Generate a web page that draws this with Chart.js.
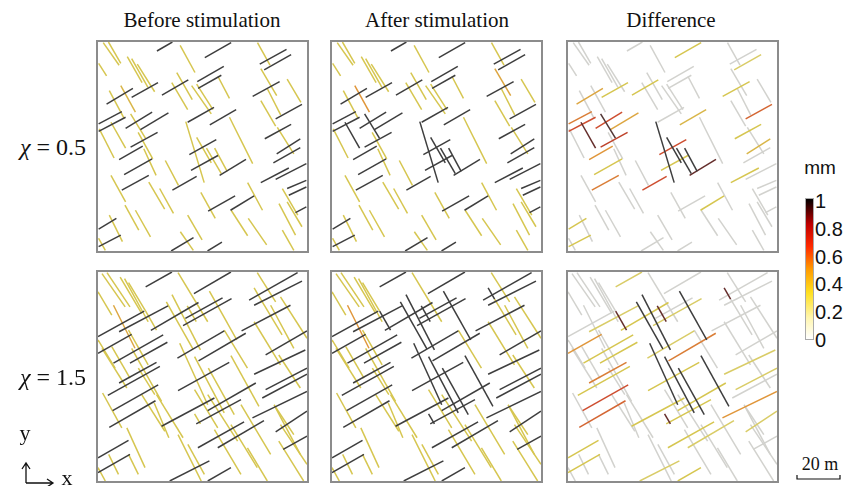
<!DOCTYPE html>
<html>
<head>
<meta charset="utf-8">
<script src="https://cdn.jsdelivr.net/npm/chart.js@4.4.1/dist/chart.umd.min.js"></script>
<style>
html,body{margin:0;padding:0;background:#fff;}
body{width:844px;height:486px;position:relative;overflow:hidden;font-family:"Liberation Serif","Times New Roman",serif;color:#111;}
.panel{position:absolute;box-sizing:border-box;width:213px;height:213px;border:2px solid #8c8c8c;background:#fff;}
.t{position:absolute;white-space:nowrap;transform:translate(-50%,-50%);}
.title{font-size:21px;top:20px;}
.chi{font-size:24px;left:53px;}
.cb{position:absolute;left:805px;top:198px;width:7px;height:140px;border:1px solid #aaa;
  background:linear-gradient(to top,#ffffff 0%,#fff6b0 15%,#ffe020 33%,#ff9a00 50%,#ff2a00 66%,#c00000 82%,#400000 94%,#000 100%);}
.cbl{position:absolute;left:815px;font-family:"Liberation Sans",Arial,sans-serif;font-size:20px;transform:translateY(-50%);}
</style>
</head>
<body>

<div class="panel" style="left:96px;top:40px"><canvas id="p0"></canvas></div>
<div class="panel" style="left:330px;top:40px"><canvas id="p1"></canvas></div>
<div class="panel" style="left:566px;top:40px"><canvas id="p2"></canvas></div>
<div class="panel" style="left:96px;top:270px"><canvas id="p3"></canvas></div>
<div class="panel" style="left:330px;top:270px"><canvas id="p4"></canvas></div>
<div class="panel" style="left:566px;top:270px"><canvas id="p5"></canvas></div>

<div class="t" style="left:820px;top:168px;font-family:'Liberation Sans',Arial,sans-serif;font-size:19px">mm</div>
<div class="cb"></div>

<svg style="position:absolute;left:0;top:400px" width="100" height="86">
  <g stroke="#111" stroke-width="1.3" fill="none">
    <path d="M26 83 L26 64 M22 69 L26 63 L30 69"/>
    <path d="M26 83 L52 83 M47 79 L53 83 L47 87"/>
  </g>
</svg>
<div class="t" style="left:25px;top:433px;font-size:22px">y</div>
<div class="t" style="left:67px;top:478px;font-size:22px">x</div>

<div class="t" style="left:820px;top:464px;font-size:18px">20 m</div>
<svg style="position:absolute;left:795px;top:472px" width="49" height="10">
  <path d="M2 3 L2 7 L45 7 L45 3" stroke="#111" stroke-width="1.2" fill="none"/>
</svg>

<script>
// panel titles, row labels and colour bar ticks
const panelTitles = ['Before stimulation', 'After stimulation', 'Difference'];
const chiValues = ['0.5', '1.5'];
const cbTicks = [0, 0.2, 0.4, 0.6, 0.8, 1];

// fractures of the chi = 0.5 network, [x1, y1, x2, y2] in m
// first the shallow set, then the steep set
const row1Segs = [
  [28.2,95.7,35.6,100],[51.1,92.5,63.7,99.7],[77.4,89.4,90.2,96.5],[79.5,86.7,92.4,94],
  [47.5,81,60.2,88.3],[47.9,77.8,59,84.1],[30.6,74.6,43.2,81.9],[16.1,73.5,28.7,80.6],
  [4.1,70.3,16.7,77.8],[74,74,86.9,81],[0.3,60.8,11.4,66.7],[0.3,57.2,13.2,64],
  [13.2,58.7,25.9,66.4],[20.3,58.1,33.7,66.1],[42.9,61.6,55.5,68.7],[53.5,60.3,66.1,67.6],
  [85,63.2,97.6,70.2],[79.8,53.7,92.4,60.6],[15.6,49.7,28.5,56.8],[43.7,46.1,56.6,53.3],
  [10.1,43.7,21.4,50.2],[85.5,46.5,96.8,53.7],[83.9,42.2,96.8,49.5],[44.5,38.6,57.4,45.7],
  [12.5,36.5,25.9,44.1],[58.2,36.2,70.8,43.8],[77.9,32.7,91.3,39.7],[85,34.3,99.7,41.8],
  [35.6,29.1,47.2,35.7],[11.4,29.1,24.3,36.2],[90.5,29.9,99.7,33.8],[91.3,26.7,99.7,30.6],
  [52.7,19.1,65.6,26.4],[63.4,19.5,74.7,26.4],[94.5,18.4,99.7,21.1],[0.3,10.5,8.8,15.6],
  [0.3,2.1,10.9,7.6],[35,0,45.7,6.4],[52.4,0,59.3,4.2],
  [2.5,99.7,10.1,88.9],[5,100,10.9,89.8],[0.3,89.8,4.1,83.8],[14,93,21.1,80.6],
  [16.1,92.1,23.9,78.3],[18.8,89.4,27.1,76.2],[39.3,98.4,46.4,85.4],[37.7,85.4,45.1,72.4],
  [35.3,80.6,42.9,67.6],[44.8,79.1,54.2,65.6],[47.2,79.8,55,67.6],[57.4,83.5,62.9,73],
  [76.3,99.7,82.3,88.9],[77.9,87.3,85.5,74.3],[77.9,71.9,85,59.7],[81.1,77.5,87.4,65.1],
  [90.5,82.2,97.1,71.1],[5.4,76.7,12.5,63.5],[10.9,79.1,17.9,66.4],[15.6,65.6,22.7,54],
  [6.2,61.6,13.2,49.2],[0.6,58.4,7.7,44.5],[19.2,56.8,26.2,44.1],[21.9,48.9,27.8,36.2],
  [42,61.9,50.8,32.7],[47.2,54.4,54.2,42.2],[51.9,49.2,59,37],[55.8,49.2,61.8,38.1],
  [62.9,64,74,41.8],[32.2,43.3,38.5,31.4],[24.3,33,31.9,20],[29.5,29.9,36.1,18],
  [6.2,36.2,13.2,23.5],[12.9,21.9,19.5,10],[17.9,19.5,25.1,6.8],[5.4,17.2,11.7,4.5],
  [42.9,17.2,49.8,5.3],[49.2,28,56.1,15.6],[63.7,19.5,71.6,7.3],[71.9,15.6,80.7,2.9],
  [71.6,32.7,78.7,19.5],[86.6,22.7,94.5,7.6],[88.2,29.9,95.6,17.2],[90.5,23.5,97.6,11.6],
  [88.2,10,93.7,0.3],[85.8,59.2,93.7,46.5],[39.4,9.2,45.6,0.3],[0.3,6.1,3.5,0.3]
];
// aperture (mm), one value per fracture
const row1Before = [
  1,1,1,1,1,1,1,1,1,1, 1,1,1,1,1,1,1,1,1,1, 1,1,1,1,1,1,1,1,1,1, 1,1,1,1,1,1,1,1,1,
  .3,.3,.3,.3,.3,.3,.3,.3,.3,.3, .3,.3,.3,.3,.3,.3,.3,.3,.35,.3, .3,.3,.3,.3,.3,.3,.3,.3,.3,.3,
  .3,.3,.3,.3,.3,.3,.3,.3,.3,.3, .3,.3,.3,.3,.3,.3,.3,.3
];
const row1After = [
  1,1,1,1,1,1,1,1,1,1, 1,1,1,1,1,1,1,1,1,1, 1,1,1,1,1,1,1,1,1,1, 1,1,1,1,1,1,1,1,1,
  .3,.3,.3,.3,.3,.3,.3,.3,.3,.3, .3,.3,.3,.4,.3,.3,.3,.3,.45,1, 1,.3,.3,.3,1,1,1,1,.3,.3,
  .3,.3,.3,.3,.3,.3,.3,.3,.3,.3, .3,.3,.3,.3,.3,.3,.3,.3
];
const row1Diff = [
  0,.3,0,.25,0,0,.3,.3,.4,.3, .5,.6,.6,.4,0,.35,.55,.3,.65,.6, .45,.35,0,.3,.3,.9,.3,0,.6,.5, 0,0,0,.3,0,.3,.3,0,0,
  0,0,0,0,0,0,0,0,0,0, 0,0,0,0,0,0,0,0,0,.95, .9,0,0,0,1,1,1,1,0,0,
  0,0,0,0,0,0,0,0,0,0, 0,0,0,0,0,0,0,0
];

// fractures of the chi = 1.5 network
const row2Segs = [
  [22.8,92.9,35.4,100],[45.9,89.7,63.6,100],[72.3,86.5,95.5,99.7],[74.7,84.1,97.6,95.6],
  [0,69.1,22.1,81.3],[10.1,71.4,33.5,83.8],[25.3,72.1,48.1,85.4],[40.7,74.3,63.9,87.3],
  [41.8,77.8,59.6,87.6],[68.7,71.8,92.1,84.1],[0,61.1,16.1,70.2],[7.4,56.4,31.2,69.9],
  [15.3,56.4,33.2,66.4],[38,58.8,60.4,71.8],[48.1,57.5,70.7,70.7],[80.2,60.3,100,71.8],
  [74.7,51.1,99.2,62.7],[10.1,46.9,28,56.8],[4.7,41,29.6,54.8],[38.3,43.2,62.8,56.8],
  [80.2,43.7,100,54],[78.6,39.7,100,51.1],[7,33.7,28.8,46],[30.4,26.2,55.7,39.7],
  [47,27.3,68.4,38.9],[52.5,33.7,75.5,46.9],[5.4,25.7,27.5,38.4],[73.9,30.2,100,42.9],
  [85,23.5,100,33.4],[88.6,15.1,100,21.5],[47.8,15.9,69.9,28.3],[57.3,15.9,79.4,28.9],
  [0,11.1,14.6,19.4],[0,4,15.3,12.7],[34.3,0,53.3,9.6],[52.5,0,63.6,6.4],
  [0,90.5,6.6,79.4],[1.9,99.2,13,83.3],[4.3,99.7,15.3,83.3],[10.6,97.6,20.9,80.2],
  [12.7,96.8,24,76.2],[14.6,94.9,22.8,81.3],[22.8,81.3,28,72.2],[7.4,84.1,17.7,63.5],
  [14.6,72.2,24,55.6],[0,67.5,8.2,54],[1.9,63.5,13.8,44.5],[6.6,64.3,15.3,49.2],
  [16.1,63.5,30.4,38.1],[19.3,54,27.2,41.3],[2.2,42.1,11.4,25.4],[13.8,25.4,22.5,6.4],
  [20.9,41.3,32,23.8],[26.9,37.3,33.9,20.7],[28,41.3,40.7,20.7],[32.7,85.7,45.4,63.2],
  [35.4,89.2,49,62.7],[38.3,99.7,52.5,76.2],[39.1,65.9,52.5,36.5],[46.2,59.5,60.4,32.6],
  [52.8,54,65.2,31.8],[53.3,90.8,66.4,67.5],[60.4,72.2,71.5,54],[63.6,60,77,35.7],
  [46.2,43.7,57.3,25.4],[46.2,32.1,49,27.3],[52.5,41.3,66.8,19.1],[43,17.5,50.9,3.2],
  [38.3,22.2,49.4,0],[55.7,24.6,68.4,3.2],[63.6,27,76.2,6.4],[68.4,36.5,82.6,12.7],
  [71.5,15.9,81,0],[74.7,76.2,87.3,55.6],[76.2,99.7,85,85.7],[74.7,92.4,77.8,87],
  [77.8,87,88.1,69.9],[82.6,84.1,93.7,63.5],[87.3,88.1,100,68.3],[86.5,60.3,96.8,44.5],
  [84.2,36.5,93.7,22.2],[85,35,96.8,12.7],[87.3,27,100,8],[86.5,19.1,98.4,0],
  [0,6.4,3.5,0],[5.1,12.7,9.8,3.2],[14.6,12.7,19.3,3.2],[42.7,83.8,47,76.2]
];
const row2Before = [
  1,1,1,1,1,1,1,1,1,1, 1,1,1,1,1,1,1,1,1,1, 1,1,1,1,1,1,1,1,1,1, 1,1,1,1,1,1,
  .3,.3,.3,.3,.3,.3,.3,.4,.3,.3, .3,.3,.3,.3,.3,.3,.3,.3,.3,.3, .3,.3,.3,.3,.3,.3,.3,.3,.3,.3,
  .3,.3,.3,.3,.3,.3,.3,.3,.3,.3, .3,.3,.3,.3,.3,.3,.3,.3,.3,.3, .3,.3
];
const row2After = [
  1,1,1,1,1,1,1,1,1,1, 1,1,1,1,1,1,1,1,1,1, 1,1,1,1,1,1,1,1,1,1, 1,1,1,1,1,1,
  .3,.3,.3,.3,.3,.3,1,.45,.3,.3, .3,.3,.3,.3,.3,.3,.3,.3,.3,1, 1,.3,1,1,1,1,.3,1,.3,1,
  .3,.3,.3,.3,.3,.3,.3,.3,.3,1, .3,.3,.3,.3,.3,.3,.3,.3,.3,.3, .3,1
];
const row2Diff = [
  .25,0,0,0,0,.25,.3,.25,0,0, .45,.3,.3,.25,.5,0,.25,.5,.3,.3, .25,0,.6,.3,.3,.3,.55,.45,.25,0, .3,.25,.3,.3,.25,.3,
  0,0,0,0,0,0,.9,0,0,0, 0,0,0,0,0,0,0,0,0,1, 1,0,1,1,1,1,0,1,0,.9,
  0,0,0,0,0,0,0,0,0,.9, 0,0,0,0,0,0,0,0,0,0, 0,.9
];

// colour of a fracture line for an aperture value
const stops = [
  [0, [210,210,206]], [0.15, [222,216,150]], [0.3, [214,198,80]], [0.45, [224,150,58]],
  [0.6, [206,78,48]], [0.8, [140,30,25]], [1, [62,62,62]]
];
function lineColor(v) {
  for (let i = 1; i < stops.length; i++) {
    if (v <= stops[i][0]) {
      const a = stops[i-1], b = stops[i];
      const f = (v - a[0]) / (b[0] - a[0]);
      const c = a[1].map((q, k) => Math.round(q + (b[1][k] - q) * f));
      return 'rgb(' + c.join(',') + ')';
    }
  }
  return 'rgb(62,62,62)';
}

function makePanel(id, segs, vals) {
  new Chart(document.getElementById(id), {
    type: 'scatter',
    data: {
      datasets: segs.map((s, i) => ({
        data: [{x: s[0], y: s[1]}, {x: s[2], y: s[3]}],
        showLine: true,
        borderColor: lineColor(vals[i]),
        borderWidth: 1.5,
        pointRadius: 0,
        order: -vals[i]
      }))
    },
    options: {
      responsive: true, maintainAspectRatio: false, animation: false, events: [],
      layout: {padding: 0},
      plugins: {legend: {display: false}, tooltip: {enabled: false}},
      scales: {
        x: {type: 'linear', min: 0, max: 100, display: false},
        y: {type: 'linear', min: 0, max: 100, display: false}
      }
    }
  });
}

makePanel('p0', row1Segs, row1Before);
makePanel('p1', row1Segs, row1After);
makePanel('p2', row1Segs, row1Diff);
makePanel('p3', row2Segs, row2Before);
makePanel('p4', row2Segs, row2After);
makePanel('p5', row2Segs, row2Diff);

// texts
const titleX = [202, 437, 671];
panelTitles.forEach((t, i) => {
  const d = document.createElement('div');
  d.className = 't title';
  d.style.left = titleX[i] + 'px';
  d.textContent = t;
  document.body.appendChild(d);
});
const chiY = [147, 377];
chiValues.forEach((v, i) => {
  const d = document.createElement('div');
  d.className = 't chi';
  d.style.top = chiY[i] + 'px';
  d.innerHTML = '<i>χ</i> = ' + v;
  document.body.appendChild(d);
});
cbTicks.forEach(v => {
  const d = document.createElement('div');
  d.className = 'cbl';
  d.style.top = (340 - v * 139) + 'px';
  d.textContent = String(v);
  document.body.appendChild(d);
});
</script>
</body>
</html>
